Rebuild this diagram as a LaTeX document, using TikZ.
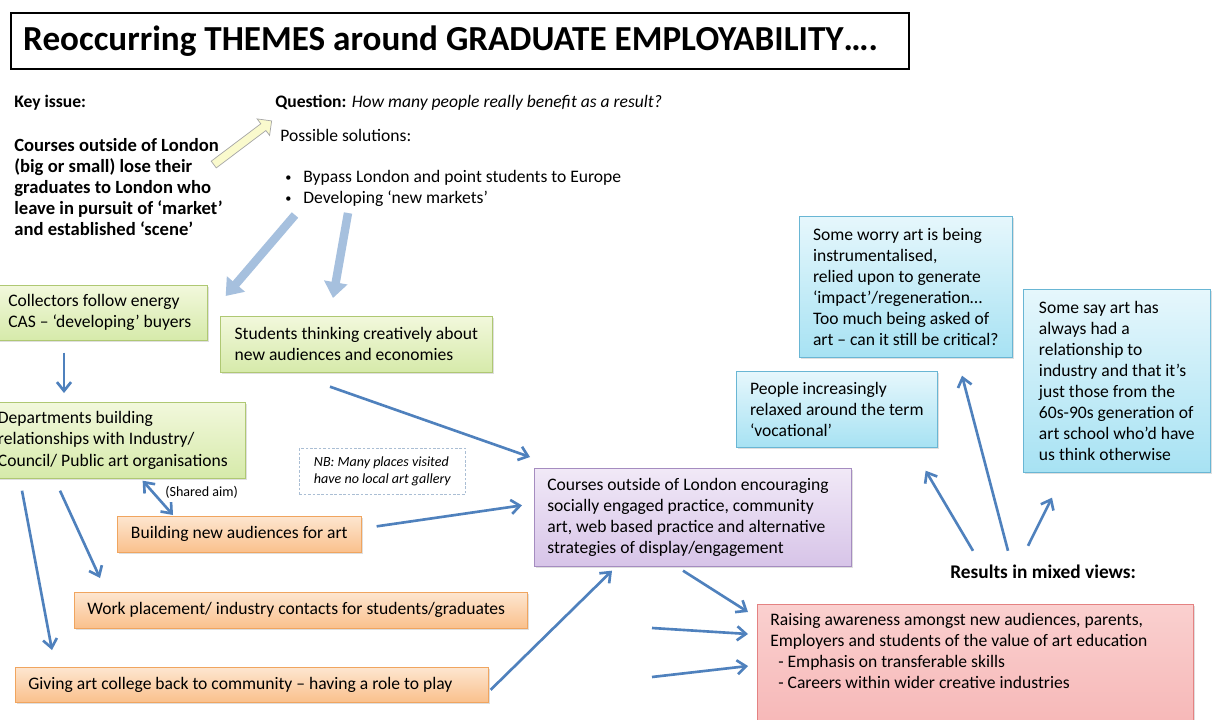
\documentclass[tikz,border=0pt]{standalone}
\usepackage{fontspec}
\setmainfont{Carlito}
\usepackage{tikz}
\usetikzlibrary{arrows.meta,positioning,calc,shadows,shapes.arrows}

\definecolor{arrblue}{RGB}{79,129,189}
\definecolor{fatblue}{RGB}{166,192,222}
\definecolor{grntop}{RGB}{242,248,220}
\definecolor{grnbot}{RGB}{214,234,170}
\definecolor{grnline}{RGB}{175,200,115}
\definecolor{orgtop}{RGB}{253,230,208}
\definecolor{orgbot}{RGB}{250,192,140}
\definecolor{orgline}{RGB}{240,165,95}
\definecolor{purtop}{RGB}{241,233,247}
\definecolor{purbot}{RGB}{215,196,232}
\definecolor{purline}{RGB}{165,140,192}
\definecolor{blutop}{RGB}{230,247,252}
\definecolor{blubot}{RGB}{167,226,243}
\definecolor{bluline}{RGB}{105,182,212}
\definecolor{pnktop}{RGB}{250,208,207}
\definecolor{pnkbot}{RGB}{246,180,180}
\definecolor{pnkline}{RGB}{228,130,130}

\newcommand{\bul}{\makebox[0.36cm][l]{\fontsize{7}{7}\selectfont\raisebox{0.4pt}{\textbullet}}}

\begin{document}
\begin{tikzpicture}[
    x=0.02cm, y=-0.02cm,
    font=\fontsize{10}{12}\selectfont,
    txt/.style={inner sep=0pt, align=flush left},
    box/.style={draw, anchor=north west, align=flush left, inner xsep=0.26cm, inner ysep=0pt,
        drop shadow={shadow xshift=1pt, shadow yshift=-1pt, opacity=0.25}},
    grnbox/.style={box, draw=grnline, top color=grntop, bottom color=grnbot},
    orgbox/.style={box, draw=orgline, top color=orgtop, bottom color=orgbot},
    purbox/.style={box, draw=purline, top color=purtop, bottom color=purbot},
    blubox/.style={box, draw=bluline, top color=blutop, bottom color=blubot},
    pnkbox/.style={box, draw=pnkline, top color=pnktop, bottom color=pnkbot},
    arr/.style={-{Straight Barb[length=5pt,width=8pt]}, line width=1.5pt, arrblue},
    arrboth/.style={arr, {Straight Barb[length=5pt,width=8pt]}-{Straight Barb[length=5pt,width=8pt]}},
    fat/.style={-{Triangle[length=9pt,width=13pt]}, line width=4.8pt, fatblue}
]
\useasboundingbox[fill=white] (0,0) rectangle (1215,720);

% heading
\node[draw, line width=1.4pt, anchor=north west, minimum height=1.12cm, text width=17.48cm,
    inner xsep=0.24cm, align=flush left, font=\fontsize{20}{22}\selectfont\bfseries] (title) at (10,12)
    {Reoccurring THEMES around GRADUATE EMPLOYABILITY….};

% key issue and question
\node[txt, anchor=west, font=\fontsize{10}{12}\selectfont\bfseries] (keylbl) at (14,103) {Key issue:};
\node[txt, anchor=north west, font=\fontsize{10.6}{12}\selectfont\bfseries] (keytext) at (14,138)
    {Courses outside of London\\(big or small) lose their\\graduates to London who\\leave in pursuit of ‘market’\\and established ‘scene’};
\node[single arrow, draw=black!35, fill={rgb,255:red,250;green,250;blue,205}, inner sep=2.2pt,
    single arrow head extend=3.5pt, minimum height=1.45cm, rotate=37] (hint) at (241,144) {};
\node[txt, anchor=west] (question) at (275,103) {\textbf{Question:} \textit{How many people really benefit as a result?}};
\node[txt, anchor=west] (possible) at (280,135) {Possible solutions:};
\node[txt, anchor=north west] (sols) at (285,170)
    {\bul Bypass London and point students to Europe\\
     \bul Developing ‘new markets’};

% left hand column
\node[grnbox, minimum width=4.30cm, minimum height=1.1cm] (collect) at (-8,285)
    {Collectors follow energy\\CAS – ‘developing’ buyers};
\node[grnbox, minimum width=5.44cm, minimum height=1.12cm] (students) at (220,316)
    {Students thinking creatively about\\new audiences and economies};
\node[grnbox, minimum width=5.30cm, minimum height=1.52cm] (depts) at (-20,402)
    {Departments building\\relationships with Industry/\\Council/ Public art organisations};
\node[draw={rgb,255:red,170;green,190;blue,212}, dash pattern=on 1.5pt off 1pt, anchor=north west,
    minimum width=3.32cm, minimum height=0.92cm, align=flush left,
    font=\fontsize{8}{9.2}\selectfont\itshape] (nb) at (299,448)
    {NB: Many places visited\\have no local art gallery};
\node[txt, anchor=west, font=\fontsize{8}{9}\selectfont] (shared) at (165,492) {(Shared aim)};
\node[orgbox, minimum width=4.88cm, minimum height=0.72cm] (building) at (117,516) {Building new audiences for art};
\node[orgbox, text width=8.54cm, minimum height=0.72cm] (work) at (74,592)
    {Work placement/ industry contacts for students/graduates};
\node[orgbox, text width=8.94cm, minimum height=0.70cm] (giving) at (15,667)
    {Giving art college back to community – having a role to play};

% centre and right
\node[purbox, text width=5.82cm, minimum height=1.96cm] (courses) at (534,468)
    {Courses outside of London encouraging\\socially engaged practice, community\\art, web based practice and alternative\\strategies of display/engagement};
\node[pnkbox, minimum width=8.72cm, minimum height=2.8cm] (raise) at (757,604) {};
\node[txt, anchor=north west] (raisetxt) at ($(raise.north west)+(13,9)$)
    {Raising awareness amongst new audiences, parents,\\Employers and students of the value of art education\\
     \ \ - Emphasis on transferable skills\\\ \ - Careers within wider creative industries};
\node[blubox, minimum width=4.26cm, minimum height=2.82cm] (worry) at (799,216)
    {Some worry art is being\\instrumentalised,\\relied upon to generate\\‘impact’/regeneration…\\Too much being asked of\\art – can it still be critical?};
\node[blubox, minimum width=4.02cm, minimum height=1.52cm] (people) at (736,371)
    {People increasingly\\relaxed around the term\\‘vocational’};
\node[blubox, minimum width=3.74cm, minimum height=3.66cm] (somesay) at (1023,289)
    {Some say art has\\always had a\\relationship to\\industry and that it’s\\just those from the\\60s-90s generation of\\art school who’d have\\us think otherwise};
\node[txt, anchor=west, font=\fontsize{11}{12}\selectfont\bfseries] (results) at (950,572) {Results in mixed views:};

\coordinate (in1) at (652,628);
\coordinate (in2) at (652,677);

\draw[fat] ($(sols.north west)+(10,45)$) -- ($(collect.north east)+(18,11)$);
\draw[fat] ($(sols.north west)+(63,43)$) -- ($(students.north west)+(113,-18)$);

\draw[arr] ($(collect.south west)+(72,12)$) -- ($(depts.north west)+(84,-9)$);
\draw[arr] ($(students.south west)+(110,14)$) -- ($(courses.north west)+(-4,-11)$);
\draw[arrboth] ($(depts.south east)+(-103,2)$) -- ($(building.north west)+(56,-1)$);
\draw[arr] ($(building.east)+(15,-8)$) -- ($(courses.west)+(-12,-12)$);
\draw[arr] ($(depts.south west)+(80,12)$) -- ($(work.north west)+(26,-14)$);
\draw[arr] ($(depts.south west)+(42,12)$) -- ($(giving.north west)+(37,-17)$);
\draw[arr] ($(giving.east)+(2,5)$) -- ($(courses.south west)+(78,4)$);
\draw[arr] ($(courses.south west)+(149,4)$) -- ($(raise.north west)+(-9,8)$);
\draw[arr] (in1) -- ($(raise.north west)+(-9,30)$);
\draw[arr] (in2) -- ($(raise.north west)+(-9,62)$);
\draw[arr] ($(results.north west)+(23,-14)$) -- ($(people.south east)+(-12,23)$);
\draw[arr] ($(results.north west)+(58,-14)$) -- ($(worry.south west)+(163,18)$);
\draw[arr] ($(results.north west)+(78,-19)$) -- ($(somesay.south west)+(29,25)$);
\end{tikzpicture}
\end{document}
